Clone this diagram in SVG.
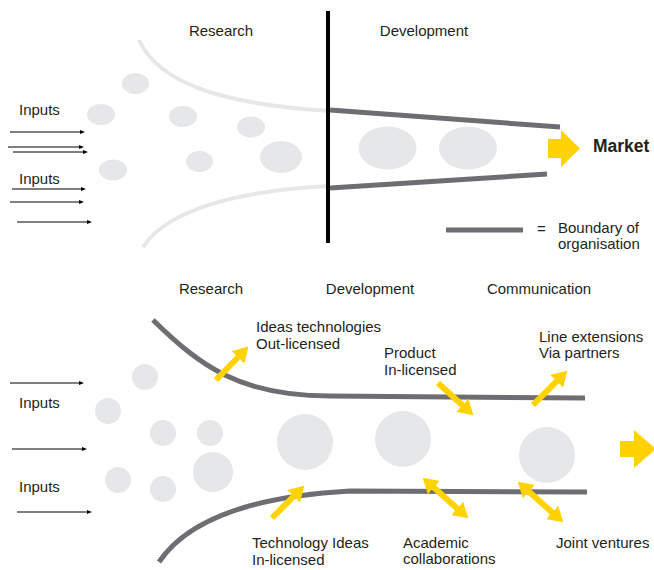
<svg xmlns="http://www.w3.org/2000/svg" width="654" height="570" viewBox="0 0 654 570">
<defs>
<style>
text{font-family:"Liberation Sans",Arial,sans-serif;font-size:15px;fill:#231f20}
.bold{font-weight:bold;font-size:17.5px}
.blob{fill:#e6e7e8}
.light{fill:none;stroke:#e6e7e8;stroke-width:4}
.dark{fill:none;stroke:#6d6e71;stroke-width:5}
.thin{stroke:#000;stroke-width:1;marker-end:url(#ah)}
.yel{stroke:#ffd200;stroke-width:6;fill:none}
.y1{marker-end:url(#yh)}
.y2{marker-start:url(#yh);marker-end:url(#yh)}
.big{fill:#ffd200}
</style>
<marker id="ah" markerUnits="userSpaceOnUse" markerWidth="5" markerHeight="4" refX="0" refY="2" orient="auto"><path d="M0,0 L5,2 L0,4 z" fill="#000"/></marker>
<marker id="yh" markerUnits="userSpaceOnUse" markerWidth="15" markerHeight="18" viewBox="0 0 15 18" refX="0.5" refY="9" orient="auto-start-reverse"><path d="M0,0 L15,9 L0,18 z" fill="#ffd200"/></marker>
</defs>

<!-- TOP DIAGRAM -->
<g id="top-labels">
<text x="221" y="36" text-anchor="middle">Research</text>
<text x="424" y="36" text-anchor="middle">Development</text>
</g>
<g id="top-inputs">
<text x="19" y="115">Inputs</text>
<text x="19" y="184">Inputs</text>
</g>
<g id="top-connectors">
<path class="light" d="M139,40 C160,86 230,105 330,111"/>
<path class="light" d="M143,247 C170,206 250,190 330,186"/>
<path class="dark" d="M330,110 L560,127"/>
<path class="dark" d="M330,188 L547,174"/>
<line x1="328" y1="11" x2="328" y2="243" stroke="#000" stroke-width="4"/>
<line class="thin" x1="10" y1="132" x2="80" y2="132"/>
<line class="thin" x1="8" y1="147" x2="79" y2="147"/>
<line class="thin" x1="13" y1="152" x2="83" y2="152"/>
<line class="thin" x1="12" y1="189" x2="81" y2="189"/>
<line class="thin" x1="10" y1="202" x2="79" y2="202"/>
<line class="thin" x1="17" y1="222" x2="87" y2="222"/>
</g>
<g id="top-ideas">
<ellipse class="blob" cx="135.5" cy="83.5" rx="13.5" ry="10.5"/>
<ellipse class="blob" cx="101" cy="114.5" rx="14" ry="10.5"/>
<ellipse class="blob" cx="183" cy="116.5" rx="14" ry="10.5"/>
<ellipse class="blob" cx="251" cy="127" rx="14" ry="10.5"/>
<ellipse class="blob" cx="281" cy="157" rx="21" ry="16"/>
<ellipse class="blob" cx="199.5" cy="161.5" rx="13.5" ry="10.5"/>
<ellipse class="blob" cx="113" cy="170" rx="14" ry="10.5"/>
<ellipse class="blob" cx="387.5" cy="148" rx="29" ry="21.5"/>
<ellipse class="blob" cx="468" cy="148" rx="29" ry="21.5"/>
</g>
<g id="top-market">
<polygon class="big" points="548,139 561,139 561,130 580,148.5 561,167 561,158 548,158"/>
<text class="bold" x="593" y="152">Market</text>
</g>
<g id="legend">
<line x1="446" y1="230" x2="523" y2="230" stroke="#6d6e71" stroke-width="5"/>
<text x="537" y="234">=</text>
<text x="558" y="233">Boundary of</text>
<text x="558" y="249">organisation</text>
</g>

<!-- BOTTOM DIAGRAM -->
<g id="bottom-labels">
<text x="211" y="294" text-anchor="middle">Research</text>
<text x="370" y="294" text-anchor="middle">Development</text>
<text x="539" y="294" text-anchor="middle">Communication</text>
</g>
<g id="bottom-inputs">
<text x="19" y="408">Inputs</text>
<text x="19" y="492">Inputs</text>
</g>
<g id="bottom-connectors">
<path class="dark" d="M153,320 C200,366 240,396 330,396 L585,398"/>
<path class="dark" d="M159,562 C190,516 260,496 350,491 L587,492"/>
<line class="thin" x1="10" y1="383" x2="79" y2="383"/>
<line class="thin" x1="12" y1="449" x2="82" y2="449"/>
<line class="thin" x1="17" y1="512" x2="87" y2="512"/>
<path class="yel y1" d="M216,380 L238.3,357"/>
<path class="yel y1" d="M272,518 L294.1,495.9"/>
<path class="yel y1" d="M438,383 L462.7,405.5"/>
<path class="yel y1" d="M533,405 L557.1,380.9"/>
<path class="yel y2" d="M433.5,487.3 L457.5,508.7"/>
<path class="yel y2" d="M528.5,491.3 L552.5,512.7"/>
</g>
<g id="bottom-ideas">
<circle class="blob" cx="145" cy="377" r="13"/>
<circle class="blob" cx="108" cy="411" r="13"/>
<circle class="blob" cx="163" cy="433" r="13"/>
<circle class="blob" cx="210" cy="433" r="13"/>
<circle class="blob" cx="213" cy="472" r="20"/>
<circle class="blob" cx="118" cy="480" r="13"/>
<circle class="blob" cx="163" cy="489" r="13"/>
<circle class="blob" cx="305" cy="442" r="28"/>
<circle class="blob" cx="403" cy="439" r="28"/>
<circle class="blob" cx="547" cy="455" r="28"/>
</g>
<g id="out-licensed">
<text x="256" y="332">Ideas technologies</text>
<text x="256" y="349">Out-licensed</text>
</g>
<g id="product-in-licensed">
<text x="384" y="358">Product</text>
<text x="384" y="375">In-licensed</text>
</g>
<g id="line-extensions">
<text x="539" y="342">Line extensions</text>
<text x="539" y="358">Via partners</text>
</g>
<g id="technology-in-licensed">
<text x="252" y="548">Technology Ideas</text>
<text x="252" y="565">In-licensed</text>
</g>
<g id="academic">
<text x="403" y="548">Academic</text>
<text x="403" y="564">collaborations</text>
</g>
<g id="joint-ventures">
<text x="556" y="548">Joint ventures</text>
</g>
<g id="bottom-market">
<polygon class="big" points="620,441 634,441 634,430 656,449 634,468 634,457 620,457"/>
</g>
</svg>
